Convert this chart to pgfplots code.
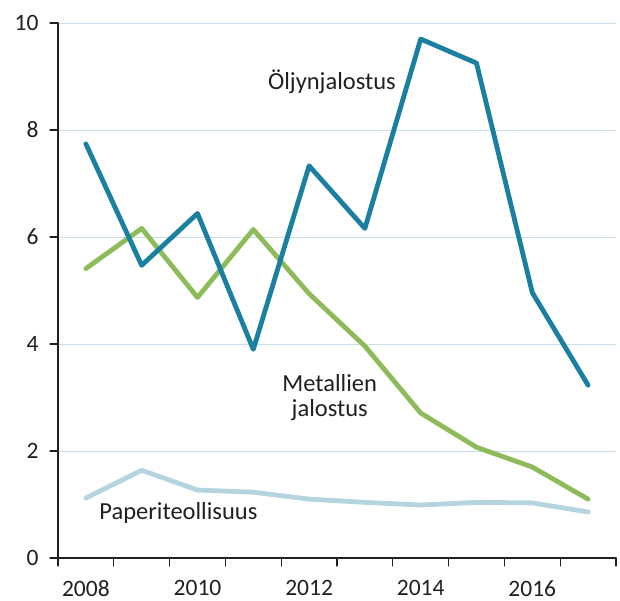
\documentclass[border=0pt]{standalone}
\usepackage{pgfplots}
\pgfplotsset{compat=1.18}
\usepackage{fontspec}
\setmainfont{Carlito}
\definecolor{oil}{HTML}{1A7FA0}
\definecolor{metal}{HTML}{8DBB5A}
\definecolor{paper}{HTML}{B4D5E0}
\definecolor{gridc}{HTML}{C5E0E8}
\definecolor{txt}{HTML}{231F20}
\begin{document}
\begin{tikzpicture}
\begin{axis}[
  scale only axis,
  width=558bp, height=535bp,
  xmin=2007.5, xmax=2017.5,
  ymin=0, ymax=10,
  axis x line*=bottom, axis y line*=left,
  axis line style={line width=1.2pt, txt},
  xtick={2008,2010,2012,2014,2016},
  xticklabels={2008,2010,2012,2014,2016},
  major x tick style={draw=none},
  minor xtick={2007.5,2008.5,...,2017.5},
  minor x tick style={line width=1.2pt, txt},
  minor tick length=8bp,
  ytick={0,2,4,6,8,10},
  y tick style={line width=1.2pt, txt},
  major tick length=8bp,
  tick align=outside,
  ymajorgrids,
  grid style={gridc, line width=0.8pt},
  /pgf/number format/assume math mode=true,
  /pgf/number format/1000 sep={},
  tick label style={font=\fontsize{23.5bp}{25bp}\selectfont, text=txt},
  xticklabel style={yshift=-11bp},
  yticklabel style={xshift=-8bp},
  clip=false,
  line join=round, line cap=round,
]
\addplot[paper, line width=4.8bp] coordinates {
(2008,1.12)(2009,1.64)(2010,1.27)(2011,1.23)(2012,1.10)(2013,1.04)(2014,0.99)(2015,1.04)(2016,1.03)(2017,0.86)};
\addplot[metal, line width=4.8bp] coordinates {
(2008,5.41)(2009,6.16)(2010,4.87)(2011,6.14)(2012,4.94)(2013,3.96)(2014,2.71)(2015,2.07)(2016,1.70)(2017,1.10)};
\addplot[oil, line width=4.8bp] coordinates {
(2008,7.74)(2009,5.47)(2010,6.44)(2011,3.90)(2012,7.33)(2013,6.16)(2014,9.70)(2015,9.25)(2016,4.96)(2017,3.23)};
\node[font=\fontsize{24.5bp}{26bp}\selectfont, text=txt] at (axis cs:2012.41,8.9) {Öljynjalostus};
\node[font=\fontsize{24.5bp}{25bp}\selectfont, text=txt, align=center] at (axis cs:2012.37,3.0) {Metallien\\jalostus};
\node[font=\fontsize{24.5bp}{26bp}\selectfont, text=txt, anchor=west] at (axis cs:2008.18,0.84) {Paperiteollisuus};
\end{axis}
\pgfresetboundingbox
\path ([shift={(-58bp,-43bp)}]current axis.south west) rectangle ([shift={(562bp,558bp)}]current axis.south west);
\end{tikzpicture}
\end{document}
